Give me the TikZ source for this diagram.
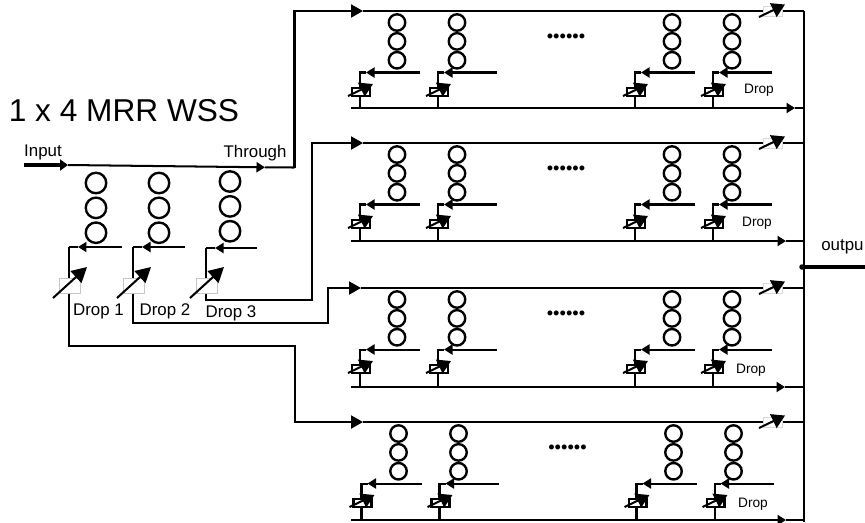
\documentclass[tikz,border=0pt]{standalone}
\usepackage{fontspec}
\setmainfont{Liberation Sans}
\usetikzlibrary{arrows.meta, positioning}

\begin{document}
\begin{tikzpicture}[
    x=0.02cm, y=-0.02cm,
    wire/.style={line width=1.15pt},
    arrow/.style={wire, -{Triangle[length=2.4mm, width=2.6mm]}},
    smallarrow/.style={wire, -{Triangle[length=1.7mm, width=2mm]}},
    ring/.style={circle, draw, line width=1.35pt, minimum size=0.41cm, inner sep=0pt},
    smallring/.style={ring, minimum size=0.33cm},
    tuner/.style={wire, -{Triangle[length=3mm, width=3.2mm]}},
    smalltuner/.style={wire, -{Triangle[length=2.6mm, width=3mm]}},
    shifter/.style={draw=gray!45, fill=white, line width=0.4pt, minimum width=0.42cm, minimum height=0.3cm, inner sep=0pt},
    bankshifter/.style={draw, fill=white, line width=1.15pt, minimum width=0.36cm, minimum height=0.16cm, inner sep=0pt},
    endshifter/.style={draw=gray!30, fill=white, line width=0.3pt, minimum width=0.38cm, minimum height=0.2cm, inner sep=0pt},
    label/.style={font=\fontsize{9.6pt}{11pt}\selectfont, inner sep=0pt},
    droplabel/.style={font=\fontsize{7.8pt}{9pt}\selectfont, inner sep=0pt}
]
    \useasboundingbox (0,0) rectangle (865,522);

    \node[font=\fontsize{18pt}{20pt}\selectfont, inner sep=0pt] (title) at (124,111) {1 x 4 MRR WSS};
    \node[label] (input) at (43,152) {Input};
    \node[label] (through) at (255,153) {Through};
    \node[label] (drop1) at (98.5,311.5) {Drop 1};
    \node[label] (drop2) at (165,311.5) {Drop 2};
    \node[label] (drop3) at (231,313) {Drop 3};
    \node[label, anchor=west] (outlabel) at (821,247) {outpu};

    % input side
    \coordinate (in) at (24,165);
    \coordinate (inb) at (68,165);
    \coordinate (thr) at (265,167.3);
    \coordinate (turn) at (294.5,167.5);
    \draw[line width=2.6pt, -{Triangle[length=1.6mm, width=2.2mm]}] (in) -- (inb);
    \draw[smallarrow] (inb) -- (thr);
    \draw[wire] (thr) -- (turn);

    \foreach \col/\xr/\xv/\xe/\yr/\ys in {1/96/69/122/183/247, 2/159/133/185/183/247, 3/230/206/257/181.5/248} {
        \node[ring] (a\col) at (\xr,\yr) {};
        \node[ring, below=0.04cm of a\col] (b\col) {};
        \node[ring, below=0.04cm of b\col] (c\col) {};
        \coordinate (se\col) at (\xe,\ys);
        \coordinate (sa\col) at (\xv+9,\ys);
        \coordinate (sv\col) at (\xv,\ys);
        \draw[smallarrow] (se\col) -- (sa\col);
        \draw[wire] (sa\col) -- (sv\col);
    }

    % feeds to the banks
    \coordinate (t1) at (294.5,11);
    \coordinate (t1a) at (363,11);
    \coordinate (f1a) at (69,346);
    \coordinate (f1b) at (295,346);
    \coordinate (f1c) at (295,422);
    \coordinate (t4a) at (363,422);
    \coordinate (f2a) at (133,323);
    \coordinate (f2b) at (328,323);
    \coordinate (f2c) at (328,288);
    \coordinate (t3a) at (361,288);
    \coordinate (f3a) at (206,300);
    \coordinate (f3b) at (312,300);
    \coordinate (f3c) at (312,143);
    \coordinate (t2a) at (363,143);
    \draw[arrow] (turn) -- (t1) -- (t1a);
    \draw[arrow] (sv1) -- (f1a) -- (f1b) -- (f1c) -- (t4a);
    \draw[arrow] (sv2) -- (f2a) -- (f2b) -- (f2c) -- (t3a);
    \draw[arrow] (sv3) -- (f3a) -- (f3b) -- (f3c) -- (t2a);

    \foreach \col/\xv in {1/69, 2/133, 3/206} {
        \node[shifter] (ps\col) at (\xv+1,286) {};
        \coordinate (pa\col) at (\xv-16,298);
        \coordinate (pb\col) at (\xv+18,267);
        \draw[tuner] (pa\col) -- (pb\col);
    }

    % the four banks
    \foreach \bank/\ytop/\dx/\dxl/\ydrop/\ybot/\xtip/\xa in {
        1/11/0/759/90/108/795/t1a,
        2/143/0/757/223/241/786/t2a,
        3/288/0/751/370/387/785/t3a,
        4/422/1.5/753/504/520/786/t4a} {
        \coordinate (tend\bank) at (803.5,\ytop);
        \coordinate (bs\bank) at (351,\ybot);
        \coordinate (btip\bank) at (\xtip,\ybot);
        \coordinate (bend\bank) at (803.5,\ybot);
        \draw[wire] (\xa) -- (tend\bank);
        \draw[smallarrow] (bs\bank) -- (btip\bank);
        \draw[wire] (btip\bank) -- (bend\bank);
        \node[droplabel] (dl\bank) at (\dxl,\ydrop) {Drop};

        \foreach \col/\xr/\xv/\xe in {1/397/360/420, 2/457/438/497, 3/672/635/695, 4/732/713/772} {
            \node[smallring] (x\bank\col) at (\xr+\dx,\ytop+11.5) {};
            \node[smallring, below=0cm of x\bank\col] (y\bank\col) {};
            \node[smallring, below=0cm of y\bank\col] (z\bank\col) {};
            \coordinate (se\bank\col) at (\xe+\dx,\ytop+61.5);
            \coordinate (sa\bank\col) at (\xv+\dx+6,\ytop+61.5);
            \coordinate (sv\bank\col) at (\xv+\dx,\ytop+61.5);
            \coordinate (sb\bank\col) at (\xv+\dx,\ybot);
            \draw[smallarrow] (se\bank\col) -- (sa\bank\col);
            \draw[wire] (sa\bank\col) -- (sv\bank\col) -- (sb\bank\col);
            \node[bankshifter] (q\bank\col) at (\xv+\dx+1,\ytop+81) {};
            \coordinate (qa\bank\col) at (\xv+\dx-12,\ytop+85);
            \coordinate (qb\bank\col) at (\xv+\dx+13,\ytop+73);
            \draw[smalltuner] (qa\bank\col) -- (qb\bank\col);
        }

        \node[endshifter] (e\bank) at (772.5,\ytop) {};
        \coordinate (ea\bank) at (759,\ytop+6);
        \coordinate (eb\bank) at (785,\ytop-6.5);
        \draw[smalltuner] (ea\bank) -- (eb\bank);

        \node[font=\fontsize{10.4pt}{12pt}\selectfont, inner sep=0pt] (dots\bank) at (566+\dx,\ytop+27) {••••••};
    }

    % output rail
    \coordinate (railtop) at (803.5,11);
    \coordinate (railbot) at (803.5,522);
    \draw[wire] (railtop) -- (railbot);
    \coordinate (outa) at (802,267);
    \coordinate (outb) at (865,267);
    \fill (outa) circle (0.055cm);
    \draw[line width=2.6pt] (outa) -- (outb);
\end{tikzpicture}
\end{document}
